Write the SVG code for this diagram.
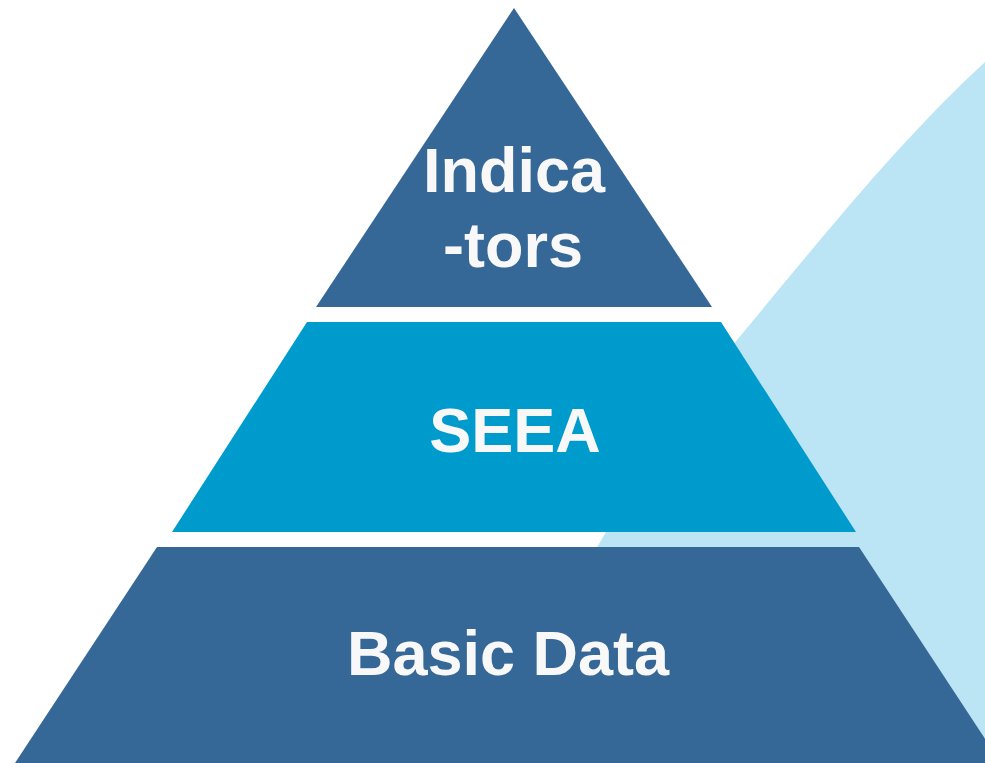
<svg xmlns="http://www.w3.org/2000/svg" width="985" height="763" viewBox="0 0 985 763">
<style>
.dark{fill:#356797}
.mid{fill:#009BCD}
.bg{fill:#BBE4F5}
.lbl{font-family:"Liberation Sans",Arial,sans-serif;font-weight:bold;font-size:63px;fill:#F8F8F8;text-anchor:middle}
</style>
<rect width="985" height="763" fill="#FFFFFF"/>
<path class="bg" d="M985,62 C900,140 820,240 737,340 C690,400 640,470 590,560 L590,763 L985,763 Z"/>
<g id="indicators">
<polygon class="dark" points="514,8 712,307 316,307"/>
<text class="lbl" x="514" y="192">Indica</text>
<text class="lbl" x="513" y="267">-tors</text>
</g>
<g id="seea">
<polygon class="mid" points="307,322 721,322 856,532 172,532"/>
<text class="lbl" x="515" y="452" font-size="62">SEEA</text>
</g>
<g id="basic-data">
<polygon class="dark" points="157,547 859,547 1001,763 15,763"/>
<text class="lbl" x="508" y="675" font-size="62">Basic Data</text>
</g>
<g id="connectors"/>
</svg>
